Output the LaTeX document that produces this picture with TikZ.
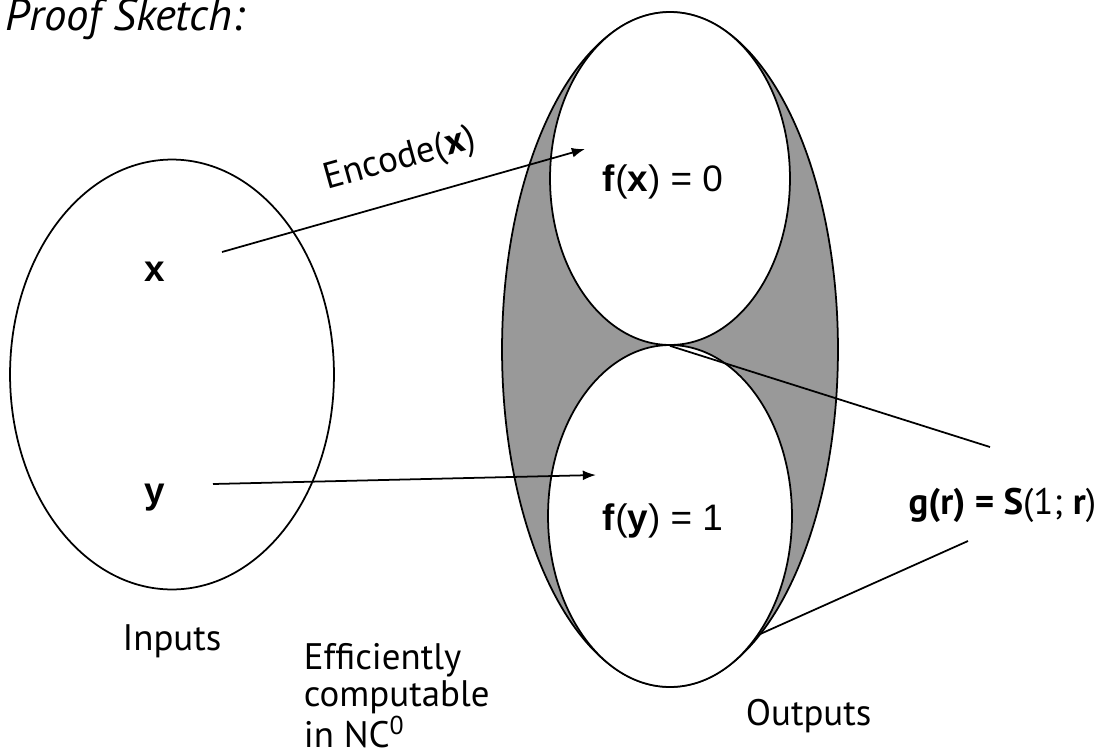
\documentclass[tikz,border=0pt]{standalone}
\usepackage{fontspec}
\setmainfont{PT Sans}
\newfontfamily\arialfont{Liberation Sans}
\usetikzlibrary{arrows.meta,shapes.geometric}
\definecolor{shadegray}{HTML}{999999}

\begin{document}
\begin{tikzpicture}[x=0.02cm, y=-0.02cm, >=Latex, line width=1pt,
  txt/.style={font=\fontsize{21}{21.6}\selectfont, inner sep=0pt},
  mathtxt/.style={font=\arialfont\fontsize{21}{24}\selectfont, inner sep=0pt},
  blob/.style={draw, ellipse, inner sep=0pt}]
  \useasboundingbox (0,0) rectangle (1100,755);
  \node[txt, font=\itshape\fontsize{25.5}{27}\selectfont, anchor=base west] (title) at (5,30) {Proof Sketch:};

  % inputs
  \node[blob, minimum width=6.48cm, minimum height=8.6cm] (inputs) at (172,374.5) {};
  \node[mathtxt] (xin) at (155,272) {\textbf{x}};
  \node[mathtxt] (yin) at (155,498) {\textbf{y}};

  % outputs
  \node[blob, fill=shadegray, minimum width=6.72cm, minimum height=13.5cm] (outputs) at (670,349.5) {};
  \node[blob, fill=white, minimum width=4.8cm, minimum height=6.66cm] (zeroset) at (670,178.5) {};
  \node[blob, fill=white, minimum width=4.88cm, minimum height=6.84cm] (oneset) at (670,516) {};
  \node[mathtxt] (fx) at (663,182) {\textbf{f}(\textbf{x}) = 0};
  \node[mathtxt] (fy) at (663,521) {\textbf{f}(\textbf{y}) = 1};

  % arrows
  \coordinate (xstart) at (222,252);
  \coordinate (xend) at (585,149);
  \coordinate (ystart) at (213,484);
  \coordinate (yend) at (596,475);
  \draw[->] (xstart) -- (xend);
  \draw[->] (ystart) -- (yend);
  \node[txt, rotate=15.6] (enc) at (400,160) {Encode(\kern1pt\textbf{x})};

  % g(r) callout
  \node[txt, anchor=east] (gr) at (1097,505) {\textbf{g(r) = S}(1; \textbf{r})};
  \coordinate (grtop) at (990,447);
  \coordinate (grbot) at (968,541);
  \coordinate (rim) at (758,635);
  \draw (zeroset.south) -- (grtop);
  \draw (grbot) -- (rim);

  % captions
  \node[txt] (inlbl) at (172,641) {Inputs};
  \node[txt, anchor=north west, align=left] (nclbl) at (303,642) {Efficiently\\computable\\in NC\textsuperscript{0}};
  \node[txt, anchor=north west] (outlbl) at (745,698) {Outputs};
\end{tikzpicture}
\end{document}
